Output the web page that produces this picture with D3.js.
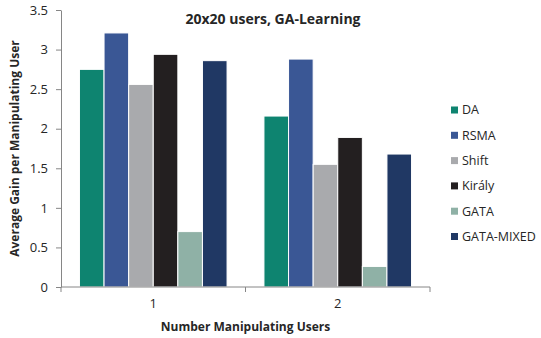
<!DOCTYPE html>
<html>
<head>
<meta charset="utf-8">
<script src="https://cdn.jsdelivr.net/npm/d3@7"></script>
<style>
  body { margin: 0; background: #fff; }
  text { font-family: "Open Sans", "DejaVu Sans", sans-serif; fill: #262626; }
</style>
</head>
<body>
<div id="chart"></div>
<script>
'use strict';

// Chart data
const groups = ['1', '2'];
const series = ['DA', 'RSMA', 'Shift', 'Király', 'GATA', 'GATA-MIXED'];
const values = [
    [2.75, 3.21, 2.56, 2.94, 0.70, 2.86],
    [2.16, 2.88, 1.55, 1.89, 0.26, 1.68]
];
const yTicks = [0, 0.5, 1, 1.5, 2, 2.5, 3, 3.5];
const colors = ['#0e8470', '#3a5795', '#a9aaad', '#231f20', '#8fb1a6', '#203864'];

const width = 541, height = 338;
const margin = { top: 10, left: 61, right: 111, bottom: 51 };

const svg = d3.select('#chart').append('svg')
    .attr('width', width)
    .attr('height', height);

const x0 = d3.scaleBand()
    .domain(groups)
    .range([margin.left, width - margin.right])
    .paddingInner(0.2)
    .paddingOuter(0.1);

const x1 = d3.scaleBand()
    .domain(series)
    .range([0, x0.bandwidth()]);

const y = d3.scaleLinear()
    .domain([0, 3.5])
    .range([height - margin.bottom, margin.top]);

// Bars
const rows = groups.map((g, i) => ({ g, vals: series.map((s, j) => ({ s, v: values[i][j], c: colors[j] })) }));

svg.append('g').selectAll('g')
    .data(rows)
    .join('g')
    .attr('transform', d => `translate(${x0(d.g)},0)`)
    .selectAll('rect')
    .data(d => d.vals)
    .join('rect')
    .attr('x', d => x1(d.s))
    .attr('y', d => y(d.v))
    .attr('width', x1.bandwidth())
    .attr('height', d => y(0) - y(d.v))
    .attr('fill', d => d.c)
    .attr('stroke', '#fff')
    .attr('stroke-width', 1);

// Y axis
const yAxis = svg.append('g')
    .attr('transform', `translate(${margin.left},0)`)
    .call(d3.axisLeft(y).tickValues(yTicks).tickFormat(d3.format('~g')).tickSize(5).tickSizeOuter(0));
yAxis.select('.domain').attr('stroke', '#868686');
yAxis.selectAll('.tick line').attr('stroke', '#868686');
yAxis.selectAll('.tick text')
    .attr('x', -13)
    .style('font-size', '13px')
    .attr('fill', '#262626');

// X axis
const xAxisG = svg.append('g')
    .attr('transform', `translate(0,${y(0)})`);
xAxisG.append('line')
    .attr('x1', margin.left).attr('x2', width - margin.right)
    .attr('stroke', '#868686');
const bounds = [margin.left, (x0('1') + x0.bandwidth() + x0('2')) / 2, width - margin.right];
xAxisG.selectAll('line.tk')
    .data(bounds)
    .join('line')
    .classed('tk', true)
    .attr('x1', d => d).attr('x2', d => d)
    .attr('y1', 0).attr('y2', 5)
    .attr('stroke', '#868686');
xAxisG.selectAll('text')
    .data(groups)
    .join('text')
    .attr('x', d => x0(d) + x0.bandwidth() / 2)
    .attr('y', 21)
    .attr('text-anchor', 'middle')
    .style('font-size', '13px')
    .text(d => d);

// Title and axis labels
svg.append('text')
    .attr('x', 273).attr('y', 24)
    .attr('text-anchor', 'middle')
    .style('font-size', '14px').style('font-weight', 'bold')
    .text('20x20 users, GA-Learning');

svg.append('text')
    .attr('x', (margin.left + width - margin.right) / 2).attr('y', 331)
    .attr('text-anchor', 'middle')
    .style('font-size', '12px').style('font-weight', 'bold')
    .text('Number Manipulating Users');

svg.append('text')
    .attr('transform', `translate(19,${(margin.top + height - margin.bottom) / 2}) rotate(-90)`)
    .attr('text-anchor', 'middle')
    .style('font-size', '12px').style('font-weight', 'bold')
    .text('Average Gain per Manipulating User');

// Legend
const legend = svg.append('g')
    .attr('transform', 'translate(451,110)');
const items = legend.selectAll('g')
    .data(series)
    .join('g')
    .attr('transform', (d, i) => `translate(0,${i * 25.3})`);
items.append('rect')
    .attr('x', 0).attr('y', -3.5)
    .attr('width', 7).attr('height', 7)
    .attr('fill', (d, i) => colors[i]);
items.append('text')
    .attr('x', 11).attr('y', 0)
    .attr('dy', '0.35em')
    .style('font-size', '12.5px')
    .text(d => d);
</script>
</body>
</html>
